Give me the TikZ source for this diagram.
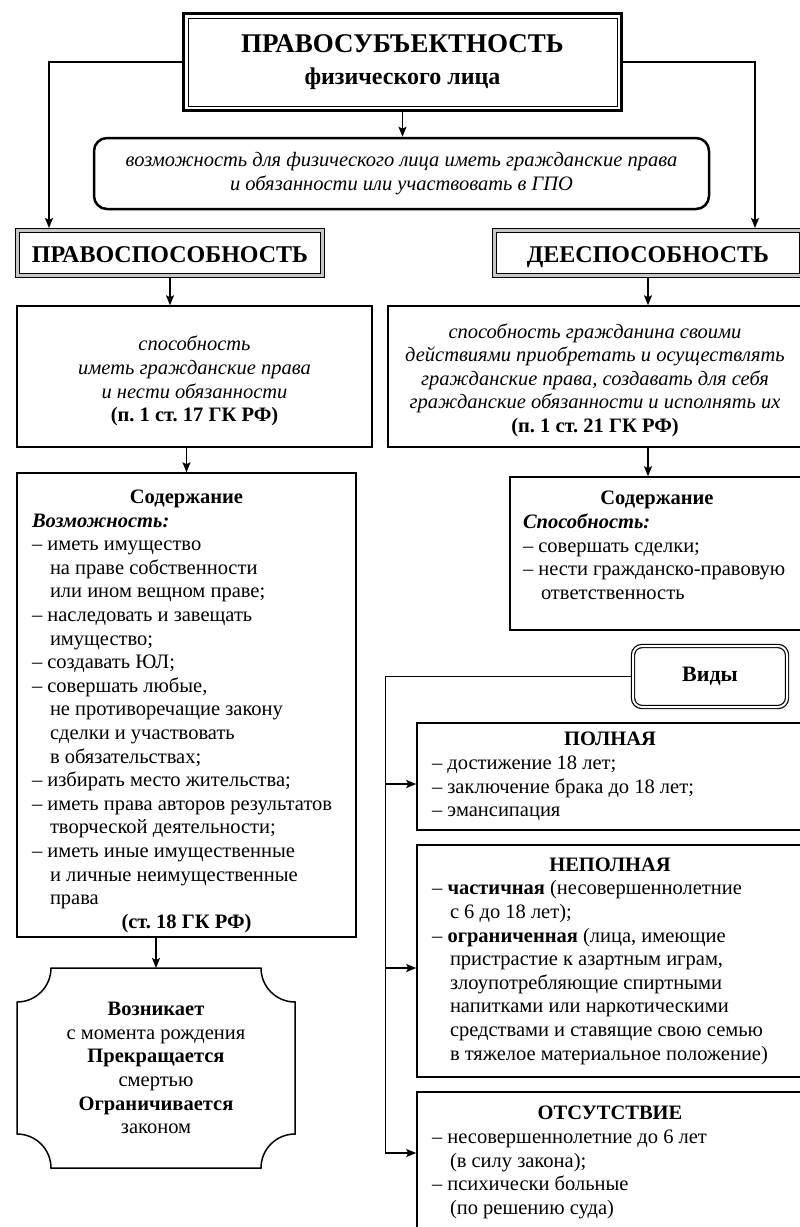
\documentclass[tikz,border=0pt]{standalone}
\usepackage{fontspec}
\setmainfont{Liberation Serif}
\usetikzlibrary{arrows.meta}

\newcommand\bodyfont{\fontsize{20.5}{23.6}\selectfont}
\newcommand\hdr[2]{\makebox[#1]{\textbf{#2}}}
\newcommand\nx{\hspace*{18pt}}

\begin{document}
\begin{tikzpicture}[x=1pt,y=1pt,>={Stealth[length=10pt,width=8pt,inset=2pt]},
                    line width=1.5pt,
                    plain box/.style={draw,inner sep=0pt,font=\bodyfont},
                    list box/.style={plain box,align=left},
                    note box/.style={plain box,align=center,font=\bodyfont\itshape},
                    frame box/.style={draw,line width=1pt,double=gray!45,double distance=3pt,
                      outer sep=2.5pt,text height=22pt,text depth=4pt,
                      font=\fontsize{24}{28}\selectfont\bfseries},
                    title box/.style={draw,line width=3pt,align=center,
                      font=\fontsize{24}{32}\selectfont\bfseries},
                    round box/.style={draw,line width=2.5pt,rounded corners=13pt,
                      align=center,font=\bodyfont\itshape},
                    kind box/.style={draw,line width=1.2pt,double,double distance=2pt,
                      rounded corners=9pt,outer sep=2.2pt,font=\fontsize{22}{26}\selectfont\bfseries}]
  \useasboundingbox (0,0) rectangle (800,-1227);
  \clip (0,0) rectangle (800,-1227);

  % upper part
  \node[title box,minimum width=438pt,minimum height=97pt] (subj) at (402.5,-62)
    {{\fontsize{27}{32}\selectfont ПРАВОСУБЪЕКТНОСТЬ}\\физического лица};
  \draw[line width=1pt] ([shift={(6pt,-6pt)}]subj.north west) rectangle ([shift={(-6pt,6pt)}]subj.south east);
  \node[round box,minimum width=615pt,minimum height=71pt] (cap) at (401.5,-173.5)
    {возможность для физического лица иметь гражданские права\\и обязанности или участвовать в ГПО};
  \node[frame box,minimum width=305pt,minimum height=45pt] (pravo) at (170,-253) {ПРАВОСПОСОБНОСТЬ};
  \node[frame box,minimum width=307pt,minimum height=45pt] (dee) at (648,-253) {ДЕЕСПОСОБНОСТЬ};

  % definitions
  \node[note box,minimum width=355pt,minimum height=141pt] (pdef) at (194.5,-376.5)
    {\rule{0pt}{24pt}способность\\иметь гражданские права\\и нести обязанности\\\textup{\textbf{(п.~1 ст.~17 ГК РФ)}}};
  \node[note box,minimum width=414pt,minimum height=141pt] (ddef) at (595,-376.5)
    {\rule{0pt}{22pt}способность гражданина своими\\действиями приобретать и осуществлять\\гражданские права, создавать для себя\\гражданские обязанности и исполнять их\\\textup{\textbf{(п.~1 ст.~21 ГК РФ)}}};

  % left column
  \node[list box,minimum width=339pt,minimum height=464pt] (pcont) at (186.5,-705)
    {\rule{0pt}{26pt}\hdr{309pt}{Содержание}\\
     \textbf{\textit{Возможность:}}\\
     – иметь имущество\\
     \nx на праве собственности\\
     \nx или ином вещном праве;\\
     – наследовать и завещать\\
     \nx имущество;\\
     – создавать ЮЛ;\\
     – совершать любые,\\
     \nx не противоречащие закону\\
     \nx сделки и участвовать\\
     \nx в обязательствах;\\
     – избирать место жительства;\\
     – иметь права авторов результатов\\
     \nx творческой деятельности;\\
     – иметь иные имущественные\\
     \nx и личные неимущественные\\
     \nx права\\
     \hdr{309pt}{(ст.~18 ГК РФ)}};
  \node[align=center,font=\bodyfont,inner sep=0pt,outer sep=0pt,
        minimum width=278pt,minimum height=200pt] (born) at (156,-1068)
    {\textbf{Возникает}\\с момента рождения\\\textbf{Прекращается}\\смертью\\\textbf{Ограничивается}\\законом};
  \draw ([xshift=34pt]born.north west) -- ([xshift=-34pt]born.north east)
    arc[start angle=180,end angle=270,radius=34pt] -- ([yshift=34pt]born.south east)
    arc[start angle=90,end angle=180,radius=34pt] -- ([xshift=34pt]born.south west)
    arc[start angle=0,end angle=90,radius=34pt] -- ([yshift=-34pt]born.north west)
    arc[start angle=270,end angle=360,radius=34pt] -- cycle;

  % right column
  \node[list box,minimum width=294pt,minimum height=153pt] (dcont) at (657,-553.5)
    {\rule{0pt}{26pt}\hdr{268pt}{Содержание}\\
     \textbf{\textit{Способность:}}\\
     – совершать сделки;\\
     – нести гражданско-правовую\\
     \nx ответственность\\[-2pt]
     \strut};
  \node[kind box,minimum width=154pt,minimum height=61pt] (kinds) at (710,-676.5) {Виды};
  \node[list box,minimum width=386pt,minimum height=107pt] (full) at (610,-776.5)
    {\hdr{356pt}{ПОЛНАЯ}\\
     – достижение 18 лет;\\
     – заключение брака до 18 лет;\\
     – эмансипация};
  \node[list box,minimum width=386pt,minimum height=232pt] (part) at (610,-961)
    {\hdr{356pt}{НЕПОЛНАЯ}\\
     – \textbf{частичная} (несовершеннолетние\\
     \nx с 6 до 18 лет);\\
     – \textbf{ограниченная} (лица, имеющие\\
     \nx пристрастие к азартным играм,\\
     \nx злоупотребляющие спиртными\\
     \nx напитками или наркотическими\\
     \nx средствами и ставящие свою семью\\
     \nx в тяжелое материальное положение)};
  \node[list box,minimum width=386pt,minimum height=151pt] (none) at (610,-1167.5)
    {\rule{0pt}{26pt}\hdr{356pt}{ОТСУТСТВИЕ}\\
     – несовершеннолетние до 6 лет\\
     \nx (в силу закона);\\
     – психически больные\\
     \nx (по решению суда)\\[-4pt]
     \strut};

  % connectors
  \path[->] (subj.south) edge (subj.south |- cap.north);
  \draw[->] (subj.west) -| ([xshift=34pt]pravo.north west);
  \draw[->] (subj.east) -| ([xshift=-49pt]dee.north east);
  \path[->] (pravo.south) edge (pravo.south |- pdef.north)
            (dee.south) edge (dee.south |- ddef.north)
            (pcont.north |- pdef.south) edge (pcont.north)
            (dee.south |- ddef.south) edge (dee.south |- dcont.north)
            (born.north |- pcont.south) edge (born.north);
  \coordinate (in1) at ([yshift=-7.5pt]full.west);
  \coordinate (in2) at ([yshift=-7pt]part.west);
  \coordinate (in3) at ([yshift=14.5pt]none.west);
  \coordinate (bus) at ([xshift=-31pt]in3);
  \draw (kinds.west) -| (bus);
  \path[->] (bus |- in1) edge (in1)
            (bus |- in2) edge (in2)
            (bus) edge (in3);
\end{tikzpicture}
\end{document}
